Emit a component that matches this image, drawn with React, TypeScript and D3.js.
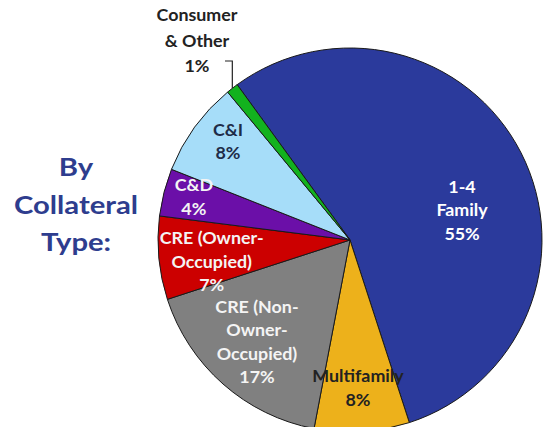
import React from "react";
import * as d3 from "d3";

const categories = [
  "1-4 Family",
  "Multifamily",
  "CRE (Non-Owner-Occupied)",
  "CRE (Owner-Occupied)",
  "C&D",
  "C&I",
  "Consumer & Other",
];
const values = [55, 8, 17, 7, 4, 8, 1];
const labelLines = [
  ["1-4", "Family", "55%"],
  ["Multifamily", "8%"],
  ["CRE (Non-", "Owner-", "Occupied)", "17%"],
  ["CRE (Owner-", "Occupied)", "7%"],
  ["C&D", "4%"],
  ["C&I", "8%"],
  ["Consumer", "& Other", "1%"],
];
const colors = ["#2B3A9C", "#EDB11B", "#808080", "#CC0000", "#6B0FA8", "#A6DDF9", "#12B21E"];
const textColors = ["#FFFFFF", "#222222", "#F4F4F4", "#F4F4F4", "#F4F4F4", "#1E2C48", "#222222"];
const titleLines = ["By", "Collateral", "Type:"];

const W = 551;
const H = 427;
const cx = 350;
const cy = 240;
const R = 192;
const startDeg = -36;

// label layout (radius, angle offset in degrees) per slice index
const labelLayout: Record<number, { r: number; da: number }> = {
  0: { r: 116, da: 12 },
  1: { r: 148, da: 0.5 },
  2: { r: 138, da: 1 },
  3: { r: 140, da: -3.5 },
  4: { r: 162, da: 1 },
  5: { r: 157, da: 3 },
};

export default function App() {
  const pie = d3
    .pie<number>()
    .sort(null)
    .value((d) => d)
    .startAngle((startDeg * Math.PI) / 180)
    .endAngle(((startDeg + 360) * Math.PI) / 180);
  const arcs = pie(values);
  const arc = d3.arc<d3.PieArcDatum<number>>().innerRadius(0).outerRadius(R);
  const font = "Lato, 'Open Sans', sans-serif";
  const lh = 23.5;
  const sx = 1.05;

  return (
    <svg width={W} height={H} style={{ position: "absolute", left: 0, top: 0, background: "#fff" }}>
      <g transform={`translate(${cx},${cy})`}>
        {arcs.map((a, i) => (
          <path key={i} d={arc(a) || ""} fill={colors[i]} stroke="#1a1a1a" strokeWidth={1} />
        ))}
        {arcs.map((a, i) => {
          const lay = labelLayout[i];
          if (!lay) return null;
          const mid = (a.startAngle + a.endAngle) / 2 + (lay.da * Math.PI) / 180;
          const x = lay.r * Math.sin(mid);
          const y = -lay.r * Math.cos(mid);
          const lines = labelLines[i];
          const y0 = -((lines.length - 1) * lh) / 2;
          return (
            <text
              key={"l" + i}
              transform={`translate(${x},${y}) scale(${sx},1)`}
              textAnchor="middle"
              fontFamily={font}
              fontWeight={700}
              fontSize={17}
              fill={textColors[i]}
            >
              {lines.map((t, j) => (
                <tspan key={j} x={0} y={y0 + j * lh} dy="0.36em">
                  {t}
                </tspan>
              ))}
            </text>
          );
        })}
      </g>
      {/* Consumer & Other outside label with leader */}
      <text
        transform={`translate(197,15) scale(${sx},1)`}
        textAnchor="middle"
        fontFamily={font}
        fontWeight={700}
        fontSize={17}
        fill={textColors[6]}
      >
        {labelLines[6].map((t, j) => (
          <tspan key={j} x={0} y={j * 25.5} dy="0.36em">
            {t}
          </tspan>
        ))}
      </text>
      {(() => {
        const a = arcs[6];
        const mid = (a.startAngle + a.endAngle) / 2;
        const ex = cx + R * Math.sin(mid);
        const ey = cy - R * Math.cos(mid);
        return (
          <path d={`M225,61 H${ex} V${ey}`} fill="none" stroke="#222" strokeWidth={1.2} />
        );
      })()}
      <text
        transform="translate(76,0) scale(1.17,1)"
        textAnchor="middle"
        fontFamily={font}
        fontWeight={700}
        fontSize={25}
        fill="#2E3D8E"
      >
        {titleLines.map((t, j) => (
          <tspan key={j} x={0} y={[176, 214, 251][j]}>
            {t}
          </tspan>
        ))}
      </text>
    </svg>
  );
}
